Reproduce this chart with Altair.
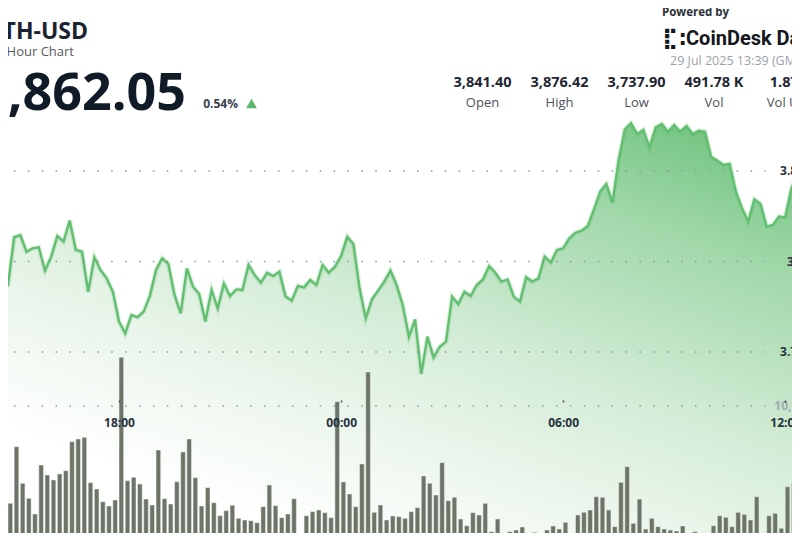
import altair as alt
import pandas as pd

# ---------------- data (10-minute steps, first point 2025-07-28 14:50 UTC) ----------------
FIRST_TIME = "2025-07-28 14:50"

prices = [
    3785.0, 3787.0, 3813.4, 3814.6, 3805.4, 3807.3, 3807.8, 3795.0, 3802.7, 3814.1,
    3811.0, 3822.6, 3806.4, 3805.4, 3783.3, 3802.3, 3795.3, 3790.7, 3783.3, 3766.8,
    3760.3, 3770.4, 3769.2, 3772.3, 3781.0, 3795.3, 3801.8, 3798.6, 3781.5, 3771.4,
    3796.2, 3786.1, 3782.0, 3766.8, 3784.3, 3774.1, 3787.9, 3780.9, 3784.6, 3784.3,
    3798.1, 3792.5, 3788.3, 3793.8, 3792.0, 3794.4, 3780.6, 3778.4, 3786.5, 3785.7,
    3789.8, 3787.0, 3798.1, 3793.8, 3797.1, 3803.0, 3813.7, 3809.7, 3785.2, 3768.6,
    3779.1, 3783.9, 3788.9, 3795.0, 3787.0, 3776.0, 3758.5, 3768.0, 3737.9, 3758.5,
    3747.0, 3752.9, 3755.7, 3780.6, 3776.5, 3783.3, 3780.9, 3787.0, 3790.1, 3797.5,
    3793.8, 3788.9, 3790.1, 3780.6, 3777.8, 3791.3, 3788.9, 3790.7, 3802.7, 3799.4,
    3806.4, 3807.3, 3812.8, 3815.9, 3817.0, 3819.6, 3828.8, 3838.6, 3842.8, 3832.5,
    3856.1, 3873.0, 3876.4, 3870.4, 3872.7, 3863.1, 3874.1, 3876.0, 3871.7, 3875.4,
    3871.7, 3874.9, 3870.4, 3872.3, 3871.7, 3857.9, 3855.7, 3853.3, 3853.9, 3838.6,
    3829.4, 3822.0, 3834.4, 3831.8, 3819.3, 3820.2, 3824.8, 3824.4, 3840.4, 3848.3,
    3856.0,
]

volumes = [
    4194, 3000, 7072, 4439, 3360, 2230, 5755, 5036, 4676, 5108,
    5345, 7431, 7626, 7748, 4482, 4029, 3115, 2806, 3237, 13503,
    4626, 4870, 4388, 3309, 2878, 6834, 3331, 2950, 4554, 6690,
    7626, 4842, 2806, 4122, 3043, 2108, 2468, 2856, 1921, 1799,
    1748, 1604, 2755, 4316, 2827, 1964, 2230, 3331, 700, 2108,
    2396, 2518, 2324, 1964, 10309, 4532, 3669, 2755, 5827, 12446,
    2352, 2878, 1799, 2086, 2036, 1921, 2396, 2683, 4964, 4439,
    3597, 5921, 3187, 3432, 1870, 1388, 2324, 2158, 3000, 957,
    1870, 600, 957, 1079, 1295, 500, 914, 650, 1079, 1367,
    1151, 1633, 700, 2158, 2352, 2518, 3475, 3432, 2518, 1317,
    4511, 5633, 1561, 3309, 1151, 1921, 1317, 1151, 1079, 1007,
    1367, 600, 957, 550, 650, 1388, 2108, 1993, 1317, 2352,
    2209, 1799, 3475, 700, 2108, 2281, 1201, 4194, 4482, 4029,
    3000,
]

price_ticks = [3750, 3800, 3850]
price_tick_labels = ["3.75K", "3.8K", "3.85K"]
volume_ticks = [10000]
volume_tick_labels = ["10,000"]

TITLE = "ETH-USD"
SUBTITLE = "24 Hour Chart"
LAST_PRICE = "3,862.05"
CHANGE = "0.54%"
POWERED = "Powered by"
LOGO_ICON = "⣏:"
BRAND = "CoinDesk Data"
STAMP = "29 Jul 2025 13:39 (GMT)"
stat_values = ["3,841.40", "3,876.42", "3,737.90", "491.78 K", "1.87 B"]
stat_names = ["Open", "High", "Low", "Vol", "Vol USD"]

PRICE_FLOOR = 3650
PRICE_CEIL = 3940.06

# ---------------- frame ----------------
times = pd.date_range(FIRST_TIME, periods=len(prices), freq="10min")
df = pd.DataFrame({
    "time": times.strftime("%Y-%m-%dT%H:%M:%SZ"),
    "time_end": (times + pd.Timedelta(minutes=7.5)).strftime("%Y-%m-%dT%H:%M:%SZ"),
    "price": prices,
    "volume": volumes,
})

W, H = 784, 525
FONT = "Open Sans"

x_scale = alt.Scale(
    type="utc",
    domain=[
        alt.DateTime(year=2025, month=7, date=28, hours=15, utc=True),
        alt.DateTime(year=2025, month=7, date=29, hours=12, minutes=11, utc=True),
    ],
)
x_axis = alt.Axis(
    values=[
        alt.DateTime(year=2025, month=7, date=28, hours=18, utc=True),
        alt.DateTime(year=2025, month=7, date=29, hours=0, utc=True),
        alt.DateTime(year=2025, month=7, date=29, hours=6, utc=True),
        alt.DateTime(year=2025, month=7, date=29, hours=12, utc=True),
    ],
    format="%H:%M",
    title=None,
    offset=-133,
    domain=False,
    grid=False,
    ticks=True,
    tickSize=2,
    tickWidth=1.5,
    tickColor="#4a4f57",
    labelPadding=20,
    labelBaseline="middle",
    labelFontSize=12,
    labelFontWeight="bold",
    labelColor="#27303d",
    labelFont=FONT,
    labelFlush=False,
    labelOverlap=False,
    zindex=1,
)
X = alt.X("time:T", scale=x_scale, axis=x_axis)

price_scale = alt.Scale(domain=[PRICE_FLOOR, PRICE_CEIL], zero=False, nice=False)
vol_scale = alt.Scale(domain=[863.3, 38633], zero=False, nice=False)

gradient = alt.Gradient(
    gradient="linear",
    x1=0.9, y1=0, x2=0.2, y2=1,
    stops=[
        alt.GradientStop(color="#6fc37e", offset=0),
        alt.GradientStop(color="#9fd7a8", offset=0.2),
        alt.GradientStop(color="#d3ecd6", offset=0.5),
        alt.GradientStop(color="#ebf6ec", offset=0.7),
        alt.GradientStop(color="#ffffff", offset=0.92),
    ],
)

base = alt.Chart(df)
Yp = alt.Y("price:Q", scale=price_scale, axis=None)

area = base.mark_area(clip=True, color=gradient).encode(
    x=X, y=Yp, y2=alt.datum(PRICE_FLOOR)
)
glow = base.mark_line(clip=True, color="#62be70", strokeWidth=5, opacity=0.2).encode(x=X, y=Yp)
line = base.mark_line(clip=True, color="#62be70", strokeWidth=2.4).encode(x=X, y=Yp)
bars = base.mark_rect(clip=True, color="#6d7569", stroke="#eef3ec", strokeWidth=0.5).encode(
    x=X,
    x2=alt.X2("time_end:T"),
    y=alt.Y("volume:Q", scale=vol_scale, axis=None),
    y2=alt.datum(0),
)

pgrid_df = pd.DataFrame({"p": price_ticks, "label": price_tick_labels})
vgrid_df = pd.DataFrame({"v": volume_ticks, "label": volume_tick_labels})

dot_style = dict(strokeDash=[1.5, 12.4], strokeWidth=1.5, color="#8e959d")
price_grid = alt.Chart(pgrid_df).mark_rule(**dot_style).encode(
    y=alt.Y("p:Q", scale=price_scale, axis=None), x=alt.value(5.9), x2=alt.value(757.5)
)
vol_grid = alt.Chart(vgrid_df).mark_rule(**dot_style).encode(
    y=alt.Y("v:Q", scale=vol_scale, axis=None), x=alt.value(5.9), x2=alt.value(757.5)
)
price_labels = alt.Chart(pgrid_df).mark_text(
    align="right", baseline="middle", fontSize=12, fontWeight="bold", color="#2b3340", font=FONT
).encode(y=alt.Y("p:Q", scale=price_scale, axis=None), x=alt.value(804), text="label:N")
vol_labels = alt.Chart(vgrid_df).mark_text(
    align="right", baseline="middle", fontSize=12, fontWeight="bold", color="#a3a8ae", font=FONT
).encode(y=alt.Y("v:Q", scale=vol_scale, axis=None), x=alt.value(804), text="label:N")


def label(text, x, y, size, color, weight="normal", align="left", font=FONT):
    return alt.Chart(pd.DataFrame({"t": [text]})).mark_text(
        align=align, baseline="alphabetic", fontSize=size, fontWeight=weight, color=color, font=font
    ).encode(text="t:N", x=alt.value(x), y=alt.value(y))


texts = [
    label(TITLE, 80, 31, 23, "#1b2330", "bold", "right"),
    label(SUBTITLE, 66, 48, 13, "#555b63", "normal", "right"),
    label(LAST_PRICE, 178, 102, 52, "#111a27", "bold", "right"),
    label(CHANGE, 230, 100, 12, "#3a414c", "bold", "right"),
    label(POWERED, 654, 8, 11.5, "#2b3038", "bold", "left"),
    label(LOGO_ICON, 654, 37, 21, "#14171c", "bold", "left", "DejaVu Sans"),
    label(BRAND, 678, 36.5, 20, "#14171c", "bold", "left", "Roboto"),
    label(STAMP, 662, 57, 12.5, "#9ba1a8", "normal", "left"),
]
stat_x = [474.5, 551.5, 628.5, 706, 783]
for sx, sv, sn in zip(stat_x, stat_values, stat_names):
    texts.append(label(sv, sx, 78.5, 14.5, "#1f2632", "bold", "center"))
    texts.append(label(sn, sx, 98.5, 13, "#4d535b", "normal", "center"))

triangle = alt.Chart(pd.DataFrame({"t": [CHANGE]})).mark_point(
    shape="triangle-up", filled=True, color="#5cb96b", size=120, opacity=1
).encode(x=alt.value(243.5), y=alt.value(95.5))

chart = alt.layer(
    area, bars, glow, line, price_grid, vol_grid, price_labels, vol_labels, triangle, *texts
).resolve_scale(y="independent").properties(
    width=W, height=H, padding=0, autosize=alt.AutoSizeParams(type="none")
).configure_view(stroke=None)

chart.save("out.html", embed_options={"renderer": "svg", "actions": False})
